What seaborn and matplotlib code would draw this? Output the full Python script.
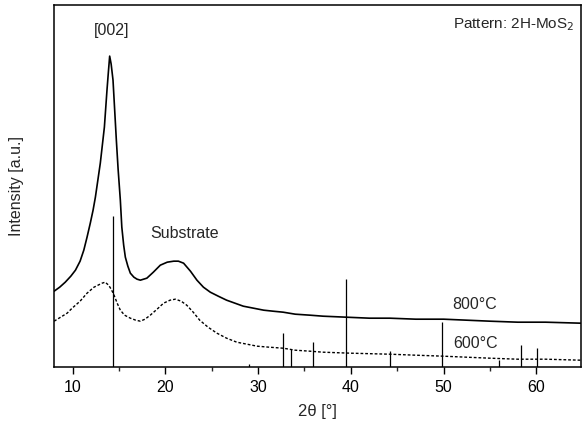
#!/usr/bin/env python3
"""XRD pattern of MoS2 films annealed at 600 and 800 °C with 2H-MoS2 reference sticks."""

import matplotlib
matplotlib.use("Agg")
import matplotlib.pyplot as plt
import pandas as pd
import seaborn as sns

# 800 °C scan (2theta, intensity a.u.)
theta_800 = [8.0, 8.6, 9.2, 9.8, 10.3, 10.8, 11.2, 11.55, 11.9, 12.2, 12.45, 12.7,
             12.98, 13.2, 13.42, 13.7, 13.85, 13.99, 14.15, 14.35, 14.5, 14.71,
             14.9, 15.14, 15.3, 15.5, 15.68, 15.95, 16.22, 16.6, 16.94, 17.3,
             18.0, 18.7, 19.45, 20.2, 20.9, 21.4, 21.96, 22.7, 23.4, 24.1,
             24.84, 25.7, 26.6, 27.5, 28.4, 29.5, 30.6, 31.6, 32.7, 34.0, 35.6,
             37.0, 39.5, 42.0, 44.2, 47.0, 50.0, 52.5, 55.0, 58.0, 61.0, 64.8]
int_800 = [76, 80, 85, 91, 97, 106, 117, 130, 144, 157, 170, 186,
           204, 222, 240, 277, 295, 311, 303, 287, 262, 227,
           198, 167, 140, 122, 110, 101, 94, 90, 88, 87,
           89, 95, 102, 105, 106, 106, 104, 96, 87, 80,
           75, 71, 67, 64, 61, 59, 57, 56, 55, 53, 52,
           51, 50, 49, 49, 48, 48, 47, 46, 45, 45, 44]

# 600 °C scan
theta_600 = [8.0, 8.7, 9.4, 9.94, 10.8, 11.55, 12.3, 13.17, 13.5, 13.88, 14.15,
             14.42, 14.8, 15.14, 15.6, 16.22, 16.8, 17.3, 17.8, 18.37, 19.1,
             19.8, 20.5, 21.07, 21.7, 22.3, 23.0, 23.7, 24.6, 25.56, 26.6,
             27.7, 28.8, 29.9, 31.2, 32.7, 34.0, 35.6, 37.0, 40.0, 44.2,
             47.0, 50.0, 52.5, 55.0, 58.0, 61.0, 64.8]
int_600 = [46, 50, 54, 59, 66, 74, 80, 84, 85, 82, 78,
           73, 64, 57, 52, 49, 47, 46, 48, 52, 58,
           64, 67, 68, 66, 62, 55, 47, 40, 34, 29,
           25, 23, 21, 20, 19, 17, 16, 15, 14, 13,
           12, 11, 10, 9, 8, 8, 7]

# 2H-MoS2 reference pattern
ref_theta = [14.4, 29.0, 32.7, 33.5, 35.9, 39.5, 44.2, 49.8, 56.0, 58.3, 60.1]
ref_height = [151, 3, 34, 18, 25, 88, 16, 45, 7, 22, 19]

sns.set_style("ticks")
plt.rcParams["font.family"] = ["Liberation Sans", "DejaVu Sans"]

df800 = pd.DataFrame({"theta": theta_800, "intensity": int_800})
df600 = pd.DataFrame({"theta": theta_600, "intensity": int_600})

fig = plt.figure(figsize=(5.82, 4.25), dpi=100)
ax = fig.add_axes([0.093, 0.136, 0.905, 0.852])

sns.lineplot(data=df800, x="theta", y="intensity", ax=ax, color="black", lw=1.2)
sns.lineplot(data=df600, x="theta", y="intensity", ax=ax, color="black", lw=1.0,
             linestyle=(0, (2, 1.4)))
ax.vlines(ref_theta, 0, ref_height, color="black", lw=0.9)

ax.set_xlim(8, 64.8)
ax.set_ylim(0, 362)
ax.set_yticks([])
ax.set_xticks([10, 20, 30, 40, 50, 60])
ax.set_xticks([15, 25, 35, 45, 55], minor=True)
ax.tick_params(axis="x", which="major", direction="out", length=5, width=1,
               labelsize=11.5, pad=4, color="black", labelcolor="black")
ax.tick_params(axis="x", which="minor", direction="out", length=3, width=1)
for s in ax.spines.values():
    s.set_visible(True)
    s.set_linewidth(1.1)
    s.set_color("black")

ax.set_xlabel("2θ [°]", fontsize=12, labelpad=7)
ax.set_ylabel("Intensity [a.u.]", fontsize=11.5, labelpad=22)

ax.text(14.25, 337, "[002]", ha="center", va="center", fontsize=11.5)
ax.text(22.1, 134, "Substrate", ha="center", va="center", fontsize=11.5)
ax.text(53.4, 63, "800°C", ha="center", va="center", fontsize=11.5)
ax.text(53.5, 24, "600°C", ha="center", va="center", fontsize=11.5)
ax.text(64.1, 342, "Pattern: 2H-MoS$_2$", ha="right", va="center", fontsize=11)

fig.savefig("out.png", dpi=100)
